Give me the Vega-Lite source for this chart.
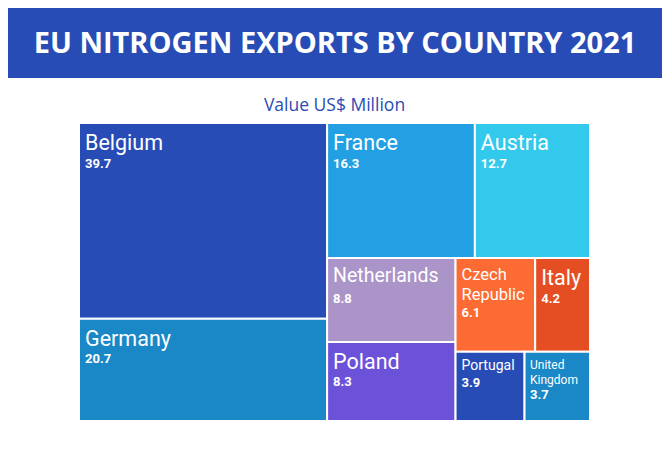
{
  "$schema": "https://vega.github.io/schema/vega-lite/v6.json",
  "padding": {"left": 8, "top": 8, "right": 8, "bottom": 0},
  "background": "white",
  "config": {"view": {"stroke": null}},
  "vconcat": [
    {
      "width": 654,
      "height": 70,
      "view": {"fill": "#284cb5", "stroke": null},
      "data": {"values": [{"t": "EU NITROGEN EXPORTS BY COUNTRY 2021"}]},
      "mark": {"type": "text", "font": "Open Sans", "fontWeight": "bold", "fontSize": 29, "color": "white", "baseline": "middle", "align": "center", "dy": 1},
      "encoding": {"text": {"field": "t", "type": "nominal"}}
    },
    {
      "width": 511,
      "height": 298,
      "title": {"text": "Value US$ Million", "font": "Open Sans", "fontSize": 17.5, "fontWeight": 500, "color": "#2a4db3", "anchor": "middle", "offset": 7.5},
      "data": {"values": [
        {"name": "Belgium", "value": 39.7, "g1": "A", "g2": "A1", "g3": "A1", "g4": "A1", "g5": "A1", "order": 1},
        {"name": "Germany", "value": 20.7, "g1": "A", "g2": "A2", "g3": "A2", "g4": "A2", "g5": "A2", "order": 2},
        {"name": "France", "value": 16.3, "g1": "B", "g2": "B1", "g3": "B1a", "g4": "B1a", "g5": "B1a", "order": 3},
        {"name": "Austria", "value": 12.7, "g1": "B", "g2": "B1", "g3": "B1b", "g4": "B1b", "g5": "B1b", "order": 4},
        {"name": "Netherlands", "value": 8.8, "g1": "B", "g2": "B2", "g3": "B2a", "g4": "B2a1", "g5": "B2a1", "order": 5},
        {"name": "Poland", "value": 8.3, "g1": "B", "g2": "B2", "g3": "B2a", "g4": "B2a2", "g5": "B2a2", "order": 6},
        {"name": "Czech Republic", "value": 6.1, "g1": "B", "g2": "B2", "g3": "B2b", "g4": "B2b1", "g5": "B2b1a", "order": 7},
        {"name": "Italy", "value": 4.2, "g1": "B", "g2": "B2", "g3": "B2b", "g4": "B2b1", "g5": "B2b1b", "order": 8},
        {"name": "Portugal", "value": 3.9, "g1": "B", "g2": "B2", "g3": "B2b", "g4": "B2b2", "g5": "B2b2a", "order": 9},
        {"name": "United Kingdom", "value": 3.7, "g1": "B", "g2": "B2", "g3": "B2b", "g4": "B2b2", "g5": "B2b2b", "order": 10}
      ]},
      "transform": [
        {"stack": "value", "groupby": [], "sort": [{"field": "order"}], "offset": "normalize", "as": ["s1a", "s1b"]},
        {"joinaggregate": [{"op": "min", "field": "s1a", "as": "X0"}, {"op": "max", "field": "s1b", "as": "X1"}], "groupby": ["g1"]},
        {"stack": "value", "groupby": ["g1"], "sort": [{"field": "order"}], "offset": "normalize", "as": ["s2a", "s2b"]},
        {"joinaggregate": [{"op": "min", "field": "s2a", "as": "Y0"}, {"op": "max", "field": "s2b", "as": "Y1"}], "groupby": ["g2"]},
        {"stack": "value", "groupby": ["g2"], "sort": [{"field": "order"}], "offset": "normalize", "as": ["s3a", "s3b"]},
        {"joinaggregate": [{"op": "min", "field": "s3a", "as": "c3a"}, {"op": "max", "field": "s3b", "as": "c3b"}], "groupby": ["g3"]},
        {"calculate": "datum.X0 + (datum.X1 - datum.X0) * datum.c3a", "as": "xa"},
        {"calculate": "datum.X0 + (datum.X1 - datum.X0) * datum.c3b", "as": "xb"},
        {"stack": "value", "groupby": ["g3"], "sort": [{"field": "order"}], "offset": "normalize", "as": ["s4a", "s4b"]},
        {"joinaggregate": [{"op": "min", "field": "s4a", "as": "c4a"}, {"op": "max", "field": "s4b", "as": "c4b"}], "groupby": ["g4"]},
        {"calculate": "datum.Y0 + (datum.Y1 - datum.Y0) * datum.c4a", "as": "ya"},
        {"calculate": "datum.Y0 + (datum.Y1 - datum.Y0) * datum.c4b", "as": "yb"},
        {"stack": "value", "groupby": ["g4"], "sort": [{"field": "order"}], "offset": "normalize", "as": ["s5a", "s5b"]},
        {"joinaggregate": [{"op": "min", "field": "s5a", "as": "c5a"}, {"op": "max", "field": "s5b", "as": "c5b"}], "groupby": ["g5"]},
        {"calculate": "datum.xa + (datum.xb - datum.xa) * datum.c5a", "as": "x0"},
        {"calculate": "datum.xa + (datum.xb - datum.xa) * datum.c5b", "as": "x1"}
      ],
      "encoding": {
        "x": {"field": "x0", "type": "quantitative", "scale": {"domain": [0, 1], "nice": false, "zero": false}, "axis": null},
        "y": {"field": "ya", "type": "quantitative", "scale": {"domain": [0, 1], "nice": false, "zero": false, "reverse": true}, "axis": null}
      },
      "layer": [
        {
          "mark": {"type": "rect", "stroke": "white", "strokeWidth": 2},
          "encoding": {
            "x2": {"field": "x1"},
            "y2": {"field": "yb"},
            "color": {"field": "name", "type": "nominal", "legend": null,
              "scale": {"domain": ["Belgium", "Germany", "France", "Austria", "Netherlands", "Poland", "Czech Republic", "Italy", "Portugal", "United Kingdom"],
                        "range": ["#284cb5", "#1a87c6", "#239fe3", "#33c9ec", "#ab94c8", "#6c52d8", "#fd6b35", "#e54e22", "#284cb5", "#1a87c6"]}}
          }
        },
        {
          "transform": [{"filter": {"field": "name", "oneOf": ["Belgium", "Germany", "France", "Austria", "Poland", "Italy"]}}],
          "mark": {"type": "text", "font": "Roboto", "fontSize": 21.5, "color": "white", "align": "left", "baseline": "alphabetic", "dx": 6, "dy": 26.8},
          "encoding": {"text": {"field": "name", "type": "nominal"}}
        },
        {
          "transform": [{"filter": {"field": "name", "equal": "Netherlands"}}],
          "mark": {"type": "text", "font": "Roboto", "fontSize": 19.5, "color": "white", "align": "left", "baseline": "alphabetic", "dx": 6, "dy": 24},
          "encoding": {"text": {"field": "name", "type": "nominal"}}
        },
        {
          "transform": [{"filter": {"field": "name", "equal": "Czech Republic"}}],
          "mark": {"type": "text", "font": "Roboto", "fontSize": 16.5, "color": "white", "align": "left", "baseline": "alphabetic", "dx": 6, "dy": 21.5, "lineBreak": " ", "lineHeight": 20},
          "encoding": {"text": {"field": "name", "type": "nominal"}}
        },
        {
          "transform": [{"filter": {"field": "name", "equal": "Portugal"}}],
          "mark": {"type": "text", "font": "Roboto", "fontSize": 14, "color": "white", "align": "left", "baseline": "alphabetic", "dx": 6, "dy": 18},
          "encoding": {"text": {"field": "name", "type": "nominal"}}
        },
        {
          "transform": [{"filter": {"field": "name", "equal": "United Kingdom"}}],
          "mark": {"type": "text", "font": "Roboto", "fontSize": 12, "color": "white", "align": "left", "baseline": "alphabetic", "dx": 5.5, "dy": 17.5, "lineBreak": " ", "lineHeight": 15},
          "encoding": {"text": {"field": "name", "type": "nominal"}}
        },
        {
          "transform": [{"filter": {"field": "name", "oneOf": ["Belgium", "Germany", "France", "Austria", "Netherlands", "Poland", "Italy"]}}],
          "mark": {"type": "text", "font": "Roboto", "fontWeight": "bold", "fontSize": 13, "color": "white", "align": "left", "baseline": "alphabetic", "dx": 6, "dy": 44.5},
          "encoding": {"text": {"field": "value", "type": "quantitative", "format": ".1f"}}
        },
        {
          "transform": [{"filter": {"field": "name", "equal": "Czech Republic"}}],
          "mark": {"type": "text", "font": "Roboto", "fontWeight": "bold", "fontSize": 13, "color": "white", "align": "left", "baseline": "alphabetic", "dx": 6, "dy": 59},
          "encoding": {"text": {"field": "value", "type": "quantitative", "format": ".1f"}}
        },
        {
          "transform": [{"filter": {"field": "name", "equal": "Portugal"}}],
          "mark": {"type": "text", "font": "Roboto", "fontWeight": "bold", "fontSize": 13, "color": "white", "align": "left", "baseline": "alphabetic", "dx": 6, "dy": 35},
          "encoding": {"text": {"field": "value", "type": "quantitative", "format": ".1f"}}
        },
        {
          "transform": [{"filter": {"field": "name", "equal": "United Kingdom"}}],
          "mark": {"type": "text", "font": "Roboto", "fontWeight": "bold", "fontSize": 13, "color": "white", "align": "left", "baseline": "alphabetic", "dx": 5.5, "dy": 47},
          "encoding": {"text": {"field": "value", "type": "quantitative", "format": ".1f"}}
        }
      ]
    }
  ],
  "center": true,
  "spacing": 19
}
